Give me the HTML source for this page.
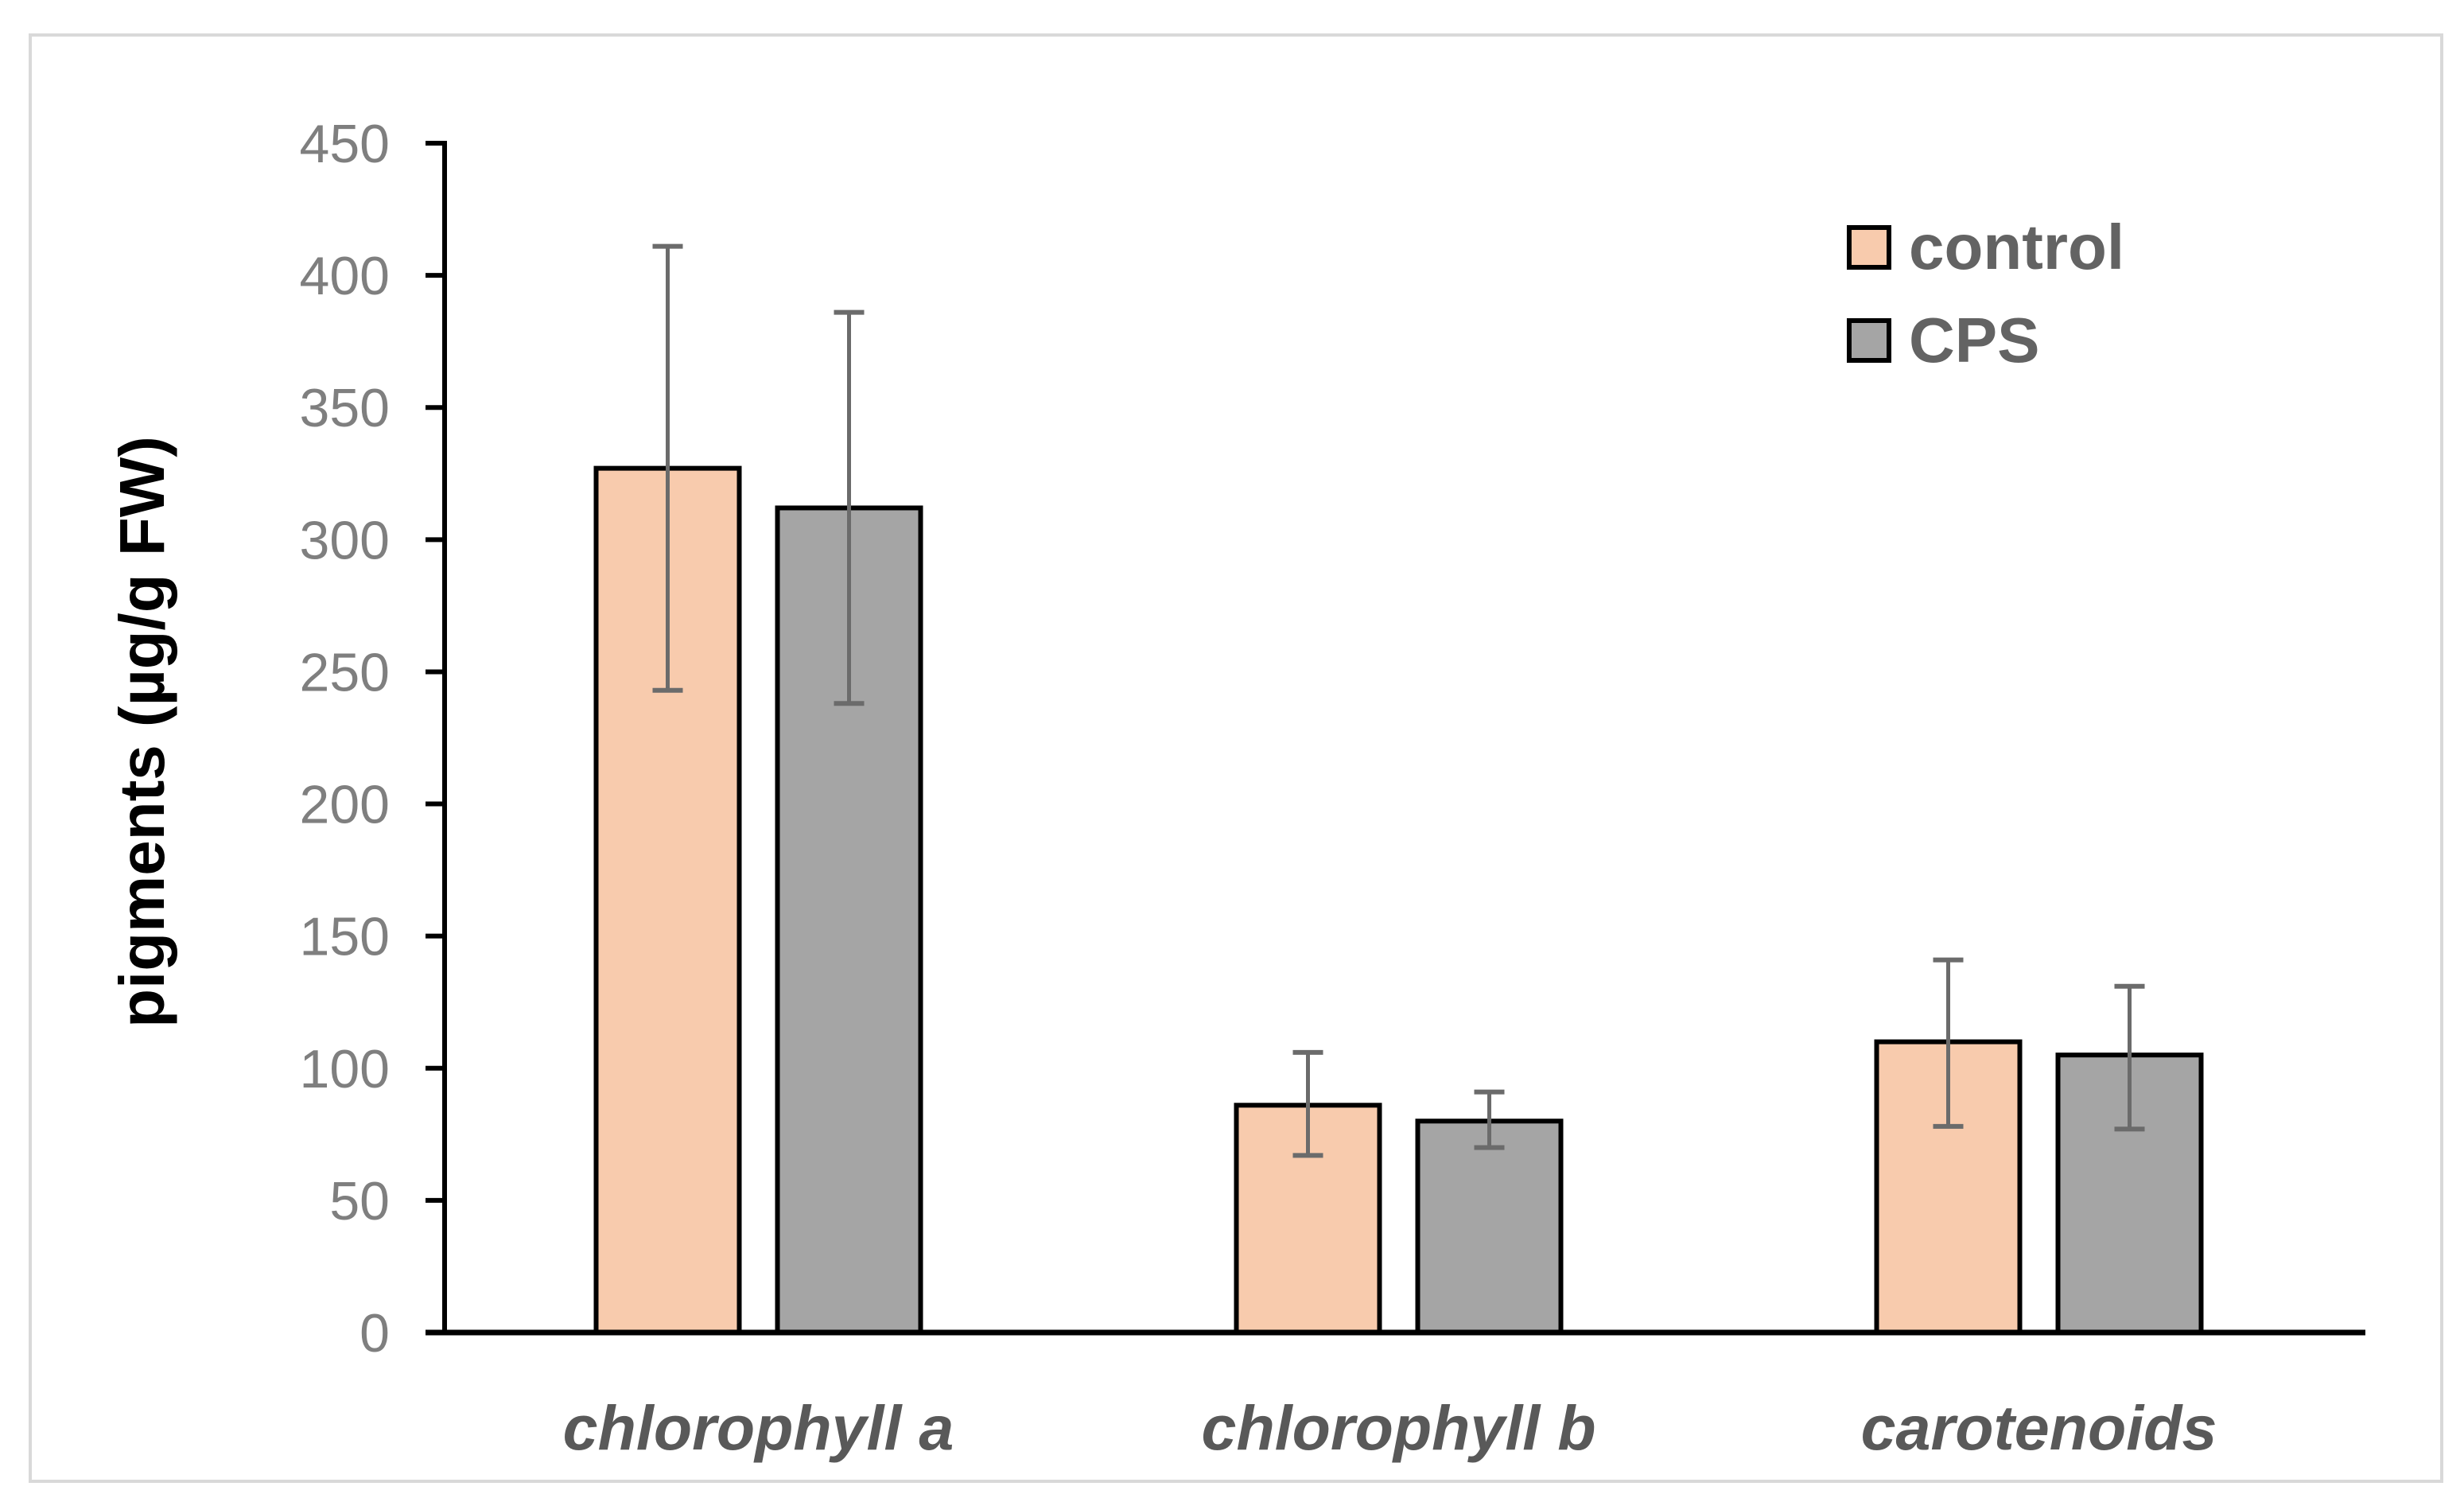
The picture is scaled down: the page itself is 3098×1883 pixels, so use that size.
<!DOCTYPE html>
<html><head><meta charset="utf-8"><style>
html,body{margin:0;padding:0;background:#fff;}
svg{display:block;}
</style></head><body>
<svg id="chart" width="3098" height="1883" xmlns="http://www.w3.org/2000/svg">
<rect x="38" y="44" width="3032" height="1818" fill="#fff" stroke="#d9d9d9" stroke-width="4"/>
<g id="plot"></g>
<text transform="translate(206,920) rotate(-90)" text-anchor="middle" font-family="Liberation Sans, sans-serif" font-weight="bold" font-size="80" fill="#000">pigments (µg/g FW)</text>
<g>
<rect x="2325" y="286" width="50" height="50" fill="#f8cbad" stroke="#000" stroke-width="6"/>
<text x="2400" y="338" font-family="Liberation Sans, sans-serif" font-weight="bold" font-size="80" fill="#636363">control</text>
<rect x="2325" y="403" width="50" height="50" fill="#a5a5a5" stroke="#000" stroke-width="6"/>
<text x="2400" y="455" font-family="Liberation Sans, sans-serif" font-weight="bold" font-size="80" fill="#636363">CPS</text>
</g>
</svg>
<script>
const categories = ["chlorophyll a", "chlorophyll b", "carotenoids"];
const controlValues = [327, 86, 110];
const cpsValues = [312, 80, 105];
const controlErrLow = [243, 67, 78];
const controlErrHigh = [411, 106, 141];
const cpsErrLow = [238, 70, 77];
const cpsErrHigh = [386, 91, 131];
const yTicks = [0, 50, 100, 150, 200, 250, 300, 350, 400, 450];

const NS = "http://www.w3.org/2000/svg";
const g = document.getElementById("plot");
const x0 = 559, x1 = 2974, yTop = 180, yBot = 1675, yMax = 450;
const y = v => yBot - (v / yMax) * (yBot - yTop);
const band = (x1 - x0) / categories.length;
const cx = i => x0 + band * (i + 0.5) - 8;
function mk(tag, attrs) {
  const e = document.createElementNS(NS, tag);
  for (const k in attrs) e.setAttribute(k, attrs[k]);
  g.appendChild(e);
  return e;
}
yTicks.forEach(t => {
  const tk = mk("line", {x1: 535, x2: x0, y1: y(t), y2: y(t), stroke: "#000", "stroke-width": 6});
  
  
  const tl = mk("text", {x: 490, y: y(t) + 24, "text-anchor": "end", "font-family": "Liberation Sans, sans-serif", "font-size": 68, fill: "#7f7f7f"});
  tl.textContent = t;
  
  
});
const series = [
  {vals: controlValues, lo: controlErrLow, hi: controlErrHigh, fill: "#f8cbad", off: -114, name: "control"},
  {vals: cpsValues, lo: cpsErrLow, hi: cpsErrHigh, fill: "#a5a5a5", off: 114, name: "cps"}
];
const bw = 180;
categories.forEach((c, i) => {
  series.forEach(s => {
    const xc = cx(i) + s.off;
    const b = mk("rect", {x: xc - bw / 2, y: y(s.vals[i]), width: bw, height: yBot - y(s.vals[i]), fill: s.fill, stroke: "#000", "stroke-width": 6});
    
    
  });
});
categories.forEach((c, i) => {
  series.forEach(s => {
    const xc = cx(i) + s.off;
    const e = mk("line", {x1: xc, x2: xc, y1: y(s.lo[i]), y2: y(s.hi[i]), stroke: "#6b6b6b", "stroke-width": 5});
    
    
    [s.lo[i], s.hi[i]].forEach(v => {
      const cap = mk("line", {x1: xc - 19, x2: xc + 19, y1: y(v), y2: y(v), stroke: "#6b6b6b", "stroke-width": 6});
      
      
    });
  });
  const lab = mk("text", {x: cx(i), y: 1822, "text-anchor": "middle", "font-family": "Liberation Sans, sans-serif", "font-weight": "bold", "font-style": "italic", "font-size": 79, fill: "#595959"});
  lab.textContent = c;
  
  
});
const ya = mk("line", {x1: x0, x2: x0, y1: yTop - 3, y2: yBot, stroke: "#000", "stroke-width": 6});


const xa = mk("line", {x1: 535, x2: x1, y1: yBot, y2: yBot, stroke: "#000", "stroke-width": 7});


</script>
</body></html>
